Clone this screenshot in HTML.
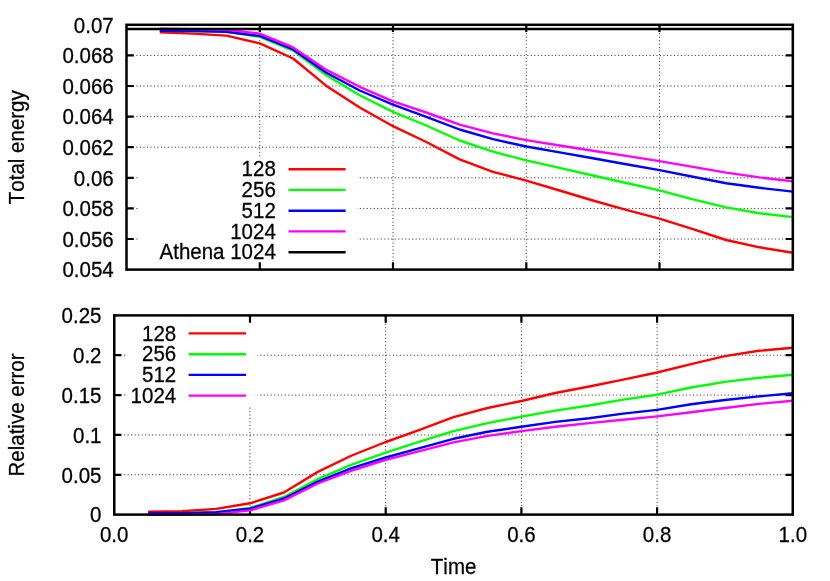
<!DOCTYPE html>
<html><head><meta charset="utf-8"><title>plot</title>
<style>
html,body{margin:0;padding:0;background:#fff;}
body{width:830px;height:581px;overflow:hidden;}
svg{display:block;will-change:transform;}
text{font-family:"Liberation Sans",sans-serif;font-size:20.5px;fill:#000;stroke:#000;stroke-width:.25px;font-kerning:none;}
.g{stroke:#000;stroke-width:1;stroke-dasharray:1.15 2.34;fill:none;stroke-opacity:.75}
.f{stroke:#000;stroke-width:2.5;fill:none;stroke-linejoin:miter;stroke-linecap:butt}
.d{fill:none;stroke-width:2.4;stroke-linejoin:round;stroke-linecap:butt}
</style></head><body>
<svg width="830" height="581" viewBox="0 0 830 581">
<rect width="830" height="581" fill="#fff"/>
<path class="g" d="M136.4,239.04 H784.5"/>
<path class="g" d="M136.4,208.44 H784.5"/>
<path class="g" d="M136.4,177.83 H784.5"/>
<path class="g" d="M136.4,147.22 H784.5"/>
<path class="g" d="M136.4,116.62 H784.5"/>
<path class="g" d="M136.4,86.01 H784.5"/>
<path class="g" d="M136.4,55.41 H784.5"/>
<path class="g" d="M259.76,33.1 V261.3"/>
<path class="g" d="M393.02,33.1 V261.3"/>
<path class="g" d="M526.28,33.1 V261.3"/>
<path class="g" d="M659.54,33.1 V261.3"/>
<rect x="138" y="157.5" width="219.5" height="105.5" fill="#fff"/>
<path class="f" style="stroke-width:2.2" d="M126.5,239.0h7.3 M792.8,239.0h-7.3 M126.5,208.4h7.3 M792.8,208.4h-7.3 M126.5,177.8h7.3 M792.8,177.8h-7.3 M126.5,147.2h7.3 M792.8,147.2h-7.3 M126.5,116.6h7.3 M792.8,116.6h-7.3 M126.5,86.0h7.3 M792.8,86.0h-7.3 M126.5,55.4h7.3 M792.8,55.4h-7.3 M259.8,24.8v7.3 M259.8,269.6v-7.3 M393.0,24.8v7.3 M393.0,269.6v-7.3 M526.3,24.8v7.3 M526.3,269.6v-7.3 M659.5,24.8v7.3 M659.5,269.6v-7.3 "/>
<path class="d" stroke="#ff0000" d="M159.8,32.3 L193.1,33.6 L226.4,35.6 L259.8,43.3 L293.1,58.5 L326.4,85.9 L359.7,107.5 L393.0,126.2 L426.3,142.0 L459.6,159.4 L493.0,171.9 L526.3,180.6 L559.6,190.5 L592.9,200.5 L626.2,209.8 L659.5,218.7 L692.9,229.2 L726.2,240.0 L759.5,247.3 L792.8,252.7"/>
<path class="d" stroke="#00ff00" d="M159.8,30.9 L193.1,31.0 L226.4,31.9 L259.8,36.9 L293.1,50.6 L326.4,75.3 L359.7,95.3 L393.0,111.9 L426.3,125.5 L459.6,140.5 L493.0,151.7 L526.3,160.4 L559.6,167.8 L592.9,175.5 L626.2,183.0 L659.5,190.4 L692.9,199.3 L726.2,207.4 L759.5,213.2 L792.8,217.1"/>
<path class="d" stroke="#0000ff" d="M159.8,30.8 L193.1,31.0 L226.4,31.8 L259.8,35.9 L293.1,49.5 L326.4,72.8 L359.7,90.5 L393.0,104.6 L426.3,116.8 L459.6,129.5 L493.0,139.2 L526.3,146.5 L559.6,152.4 L592.9,158.3 L626.2,164.2 L659.5,170.1 L692.9,176.7 L726.2,183.2 L759.5,187.8 L792.8,191.6"/>
<path class="d" stroke="#ff00ff" d="M159.8,28.8 L193.1,29.1 L226.4,29.7 L259.8,33.6 L293.1,47.4 L326.4,69.9 L359.7,86.8 L393.0,101.3 L426.3,112.5 L459.6,124.7 L493.0,133.4 L526.3,140.1 L559.6,145.5 L592.9,150.7 L626.2,155.9 L659.5,161.1 L692.9,166.9 L726.2,172.6 L759.5,177.4 L792.8,181.2"/>
<path class="d" stroke="#000" style="stroke-width:2.6" d="M126.5,29.0H792.8"/>
<rect class="f" x="126.5" y="24.8" width="666.3" height="244.8"/>
<text transform="translate(113.7,277.3) scale(1,1.08)" text-anchor="end">0.054</text>
<text transform="translate(113.7,246.7) scale(1,1.08)" text-anchor="end">0.056</text>
<text transform="translate(113.7,216.1) scale(1,1.08)" text-anchor="end">0.058</text>
<text transform="translate(113.7,185.5) scale(1,1.08)" text-anchor="end">0.06</text>
<text transform="translate(113.7,154.9) scale(1,1.08)" text-anchor="end">0.062</text>
<text transform="translate(113.7,124.3) scale(1,1.08)" text-anchor="end">0.064</text>
<text transform="translate(113.7,93.7) scale(1,1.08)" text-anchor="end">0.066</text>
<text transform="translate(113.7,63.1) scale(1,1.08)" text-anchor="end">0.068</text>
<text transform="translate(113.7,32.5) scale(1,1.08)" text-anchor="end">0.07</text>
<text transform="translate(275.8,176.3) scale(1,1.08)" text-anchor="end">128</text>
<path class="d" stroke="#ff0000" d="M288.5,169.2H345.6"/>
<text transform="translate(275.8,197.0) scale(1,1.08)" text-anchor="end">256</text>
<path class="d" stroke="#00ff00" d="M288.5,189.9H345.6"/>
<text transform="translate(275.8,217.8) scale(1,1.08)" text-anchor="end">512</text>
<path class="d" stroke="#0000ff" d="M288.5,210.7H345.6"/>
<text transform="translate(275.8,238.5) scale(1,1.08)" text-anchor="end">1024</text>
<path class="d" stroke="#ff00ff" d="M288.5,231.4H345.6"/>
<text transform="translate(275.8,259.3) scale(1,1.08)" text-anchor="end">Athena 1024</text>
<path class="d" stroke="#000" d="M288.5,252.2H345.6"/>
<path class="g" d="M124.1,474.76 H784.5"/>
<path class="g" d="M124.1,434.92 H784.5"/>
<path class="g" d="M124.1,395.08 H784.5"/>
<path class="g" d="M124.1,355.24 H784.5"/>
<path class="g" d="M249.96,323.7 V506.3"/>
<path class="g" d="M385.67,323.7 V506.3"/>
<path class="g" d="M521.38,323.7 V506.3"/>
<path class="g" d="M657.09,323.7 V506.3"/>
<rect x="126" y="323" width="131.5" height="82.5" fill="#fff"/>
<path class="f" style="stroke-width:2.2" d="M114.2,474.8h7.3 M792.8,474.8h-7.3 M114.2,434.9h7.3 M792.8,434.9h-7.3 M114.2,395.1h7.3 M792.8,395.1h-7.3 M114.2,355.2h7.3 M792.8,355.2h-7.3 M250.0,315.4v7.3 M250.0,514.6v-7.3 M385.7,315.4v7.3 M385.7,514.6v-7.3 M521.4,315.4v7.3 M521.4,514.6v-7.3 M657.1,315.4v7.3 M657.1,514.6v-7.3 "/>
<path class="d" stroke="#ff0000" d="M148.2,511.8 L182.1,511.2 L216.0,508.9 L250.0,503.3 L283.9,492.5 L317.8,471.9 L351.7,455.5 L385.7,442.0 L419.6,429.9 L453.5,417.1 L487.5,408.0 L521.4,401.0 L555.3,393.0 L589.2,386.5 L623.2,379.6 L657.1,372.5 L691.0,364.1 L724.9,356.1 L758.9,350.8 L792.8,347.7"/>
<path class="d" stroke="#00ff00" d="M148.2,513.2 L182.1,513.1 L216.0,512.4 L250.0,508.0 L283.9,497.0 L317.8,479.1 L351.7,464.6 L385.7,452.6 L419.6,441.7 L453.5,431.1 L487.5,423.1 L521.4,416.6 L555.3,410.6 L589.2,405.5 L623.2,399.6 L657.1,394.7 L691.0,387.5 L724.9,381.9 L758.9,377.8 L792.8,374.7"/>
<path class="d" stroke="#0000ff" d="M148.2,513.0 L182.1,513.1 L216.0,512.1 L250.0,508.7 L283.9,498.5 L317.8,481.6 L351.7,468.1 L385.7,457.5 L419.6,448.2 L453.5,438.8 L487.5,431.8 L521.4,426.7 L555.3,421.9 L589.2,418.3 L623.2,413.6 L657.1,409.9 L691.0,404.3 L724.9,400.0 L758.9,396.4 L792.8,393.3"/>
<path class="d" stroke="#ff00ff" d="M148.2,514.8 L182.1,514.6 L216.0,514.1 L250.0,510.4 L283.9,500.4 L317.8,483.5 L351.7,470.6 L385.7,459.8 L419.6,451.1 L453.5,442.4 L487.5,435.9 L521.4,431.1 L555.3,426.7 L589.2,423.1 L623.2,419.8 L657.1,416.4 L691.0,412.3 L724.9,408.0 L758.9,403.9 L792.8,400.7"/>
<rect class="f" x="114.25" y="315.4" width="678.5" height="199.2"/>
<text transform="translate(101.5,522.3) scale(1,1.08)" text-anchor="end">0</text>
<text transform="translate(101.5,482.5) scale(1,1.08)" text-anchor="end">0.05</text>
<text transform="translate(101.5,442.6) scale(1,1.08)" text-anchor="end">0.1</text>
<text transform="translate(101.5,402.8) scale(1,1.08)" text-anchor="end">0.15</text>
<text transform="translate(101.5,362.9) scale(1,1.08)" text-anchor="end">0.2</text>
<text transform="translate(101.5,323.1) scale(1,1.08)" text-anchor="end">0.25</text>
<text transform="translate(114.2,542.2) scale(1,1.08)" text-anchor="middle">0.0</text>
<text transform="translate(250.0,542.2) scale(1,1.08)" text-anchor="middle">0.2</text>
<text transform="translate(385.7,542.2) scale(1,1.08)" text-anchor="middle">0.4</text>
<text transform="translate(521.4,542.2) scale(1,1.08)" text-anchor="middle">0.6</text>
<text transform="translate(657.1,542.2) scale(1,1.08)" text-anchor="middle">0.8</text>
<text transform="translate(792.8,542.2) scale(1,1.08)" text-anchor="middle">1.0</text>
<text transform="translate(176.2,340.5) scale(1,1.08)" text-anchor="end">128</text>
<path class="d" stroke="#ff0000" d="M188.6,333.4H246.1"/>
<text transform="translate(176.2,361.3) scale(1,1.08)" text-anchor="end">256</text>
<path class="d" stroke="#00ff00" d="M188.6,354.2H246.1"/>
<text transform="translate(176.2,382.0) scale(1,1.08)" text-anchor="end">512</text>
<path class="d" stroke="#0000ff" d="M188.6,374.9H246.1"/>
<text transform="translate(176.2,402.7) scale(1,1.08)" text-anchor="end">1024</text>
<path class="d" stroke="#ff00ff" d="M188.6,395.6H246.1"/>
<text transform="translate(23.7,147.2) rotate(-90) scale(1,1.08)" text-anchor="middle">Total energy</text>
<text transform="translate(23.7,415.0) rotate(-90) scale(1,1.08)" text-anchor="middle">Relative error</text>
<text transform="translate(453.6,573.7) scale(1,1.08)" text-anchor="middle">Time</text>
</svg>
</body></html>
